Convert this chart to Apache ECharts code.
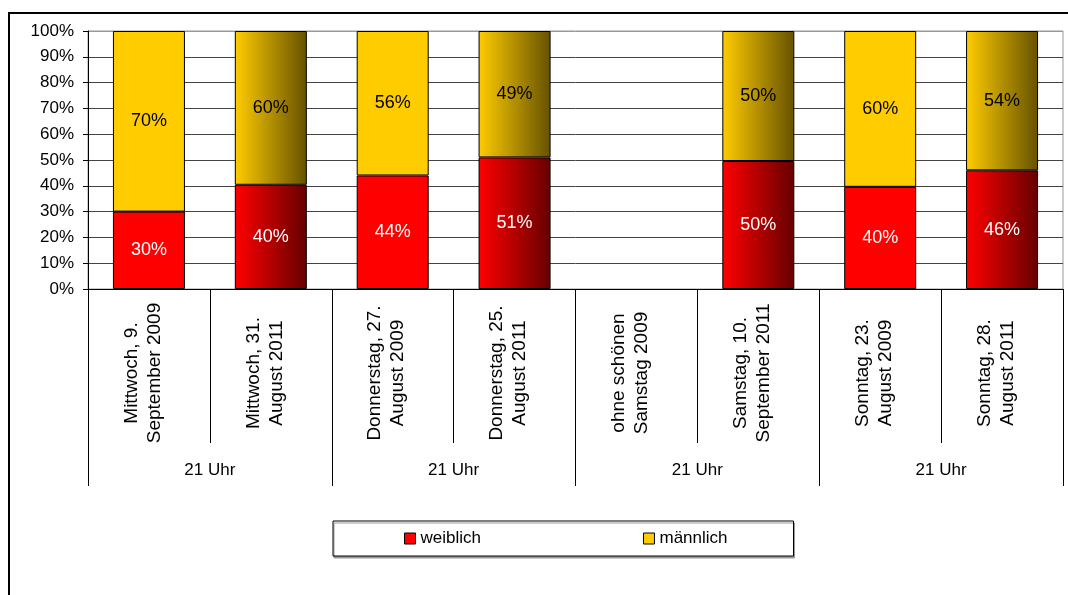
<!DOCTYPE html>
<html>
<head>
<meta charset="utf-8">
<title>weiblich / männlich</title>
<script src="https://cdn.jsdelivr.net/npm/echarts@6/dist/echarts.min.js"></script>
<style>
html, body { margin: 0; padding: 0; background: #fff; }
#chart { width: 1068px; height: 595px; }
</style>
</head>
<body>
<div id="chart"></div>
<script>
// categories (two lines each) and the group row underneath
const categories = [
  'Mittwoch, 9.\nSeptember 2009',
  'Mittwoch, 31.\nAugust 2011',
  'Donnerstag, 27.\nAugust 2009',
  'Donnerstag, 25.\nAugust 2011',
  'ohne schönen\nSamstag 2009',
  'Samstag, 10.\nSeptember 2011',
  'Sonntag, 23.\nAugust 2009',
  'Sonntag, 28.\nAugust 2011'
]
const groups = ['21 Uhr', '21 Uhr', '21 Uhr', '21 Uhr']

// shares in percent
const weiblich = [30, 40.4, 44, 51, null, 49.6, 39.6, 46]
const maennlich = [70, 59.6, 56, 49, null, 50.4, 60.4, 54]

const FONT = '"Liberation Sans", Arial, sans-serif'

function fade (from, to) {
  return {
    type: 'linear', x: 0, y: 0, x2: 1, y2: 0,
    colorStops: [{ offset: 0, color: from }, { offset: 1, color: to }]
  }
}

// 2011 bars get the darkening gradient, 2009 bars stay flat
function buildData (values, flat, dark) {
  return values.map(function (v, i) {
    if (v === null) return '-'
    if (categories[i].indexOf('2011') < 0) return v
    return { value: v, itemStyle: { color: fade(flat, dark) } }
  })
}

// top gridline is lighter like the plot border
const gridColors = []
for (let i = 0; i < 10; i++) gridColors.push('#444')
gridColors.push('#999')

const chart = echarts.init(document.getElementById('chart'))
chart.setOption({
  backgroundColor: '#fff',
  animation: false,
  textStyle: { fontFamily: FONT },
  graphic: [{
    type: 'rect',
    shape: { x: 9, y: 13, width: 1200, height: 700 },
    style: { fill: 'none', stroke: '#000', lineWidth: 2 },
    silent: true
  }],
  grid: {
    left: 88, top: 31, right: 5, bottom: 306,
    show: true, backgroundColor: '#fff', borderColor: '#999', borderWidth: 1,
    outerBoundsMode: 'none'
  },
  legend: {
    data: ['weiblich', 'männlich'],
    left: 333, top: 521,
    padding: [9, 66, 9, 71],
    itemGap: 162,
    itemWidth: 11, itemHeight: 11,
    icon: 'rect',
    itemStyle: { borderColor: '#000', borderWidth: 1 },
    borderColor: '#000', borderWidth: 1,
    backgroundColor: '#fff',
    shadowColor: '#999', shadowOffsetX: 1, shadowOffsetY: 2, shadowBlur: 0,
    textStyle: { fontSize: 17, color: '#000', fontFamily: FONT }
  },
  xAxis: [
    {
      type: 'category',
      data: categories,
      axisLine: { show: true, lineStyle: { color: '#000', width: 1 } },
      axisTick: { show: true, interval: 0, length: 154, lineStyle: { color: '#000' } },
      axisLabel: {
        interval: 0,
        rotate: 90,
        align: 'center',
        verticalAlign: 'middle',
        margin: 84,
        padding: [0, 0, 12, 0],
        formatter: function (val) {
          return val.split('\n').map(function (s) { return '{t|' + s + '}' }).join('\n')
        },
        rich: {
          t: { fontSize: 19, lineHeight: 23, color: '#000', fontFamily: FONT }
        }
      },
      splitLine: { show: false }
    },
    {
      type: 'category',
      data: groups,
      position: 'bottom',
      offset: 154,
      axisLine: { show: false },
      axisTick: { show: true, interval: 0, length: 43, lineStyle: { color: '#000' } },
      axisLabel: { interval: 0, margin: 19, fontSize: 17, color: '#000', fontFamily: FONT },
      splitLine: { show: false }
    }
  ],
  yAxis: {
    type: 'value',
    min: 0, max: 100, interval: 10,
    axisLine: { show: true, lineStyle: { color: '#000' } },
    axisTick: { show: true, length: 5, lineStyle: { color: '#000' } },
    axisLabel: { formatter: '{value}%', margin: 14, fontSize: 17, color: '#000', fontFamily: FONT },
    splitLine: { show: true, lineStyle: { color: gridColors, width: 1 } }
  },
  series: [
    {
      name: 'weiblich',
      type: 'bar',
      stack: 'total',
      barWidth: 72,
      color: '#ff0000',
      itemStyle: { color: '#ff0000', borderColor: '#000', borderWidth: 1 },
      label: {
        show: true, position: 'inside', fontSize: 18, color: '#fff', fontFamily: FONT,
        formatter: function (p) { return Math.round(p.value) + '%' }
      },
      data: buildData(weiblich, '#ff0000', '#660000')
    },
    {
      name: 'männlich',
      type: 'bar',
      stack: 'total',
      barWidth: 72,
      color: '#ffcc00',
      itemStyle: { color: '#ffcc00', borderColor: '#000', borderWidth: 1 },
      label: {
        show: true, position: 'inside', fontSize: 18, color: '#000', fontFamily: FONT,
        formatter: function (p) { return Math.round(p.value) + '%' }
      },
      data: buildData(maennlich, '#ffcc00', '#665200')
    }
  ]
})
</script>
</body>
</html>
